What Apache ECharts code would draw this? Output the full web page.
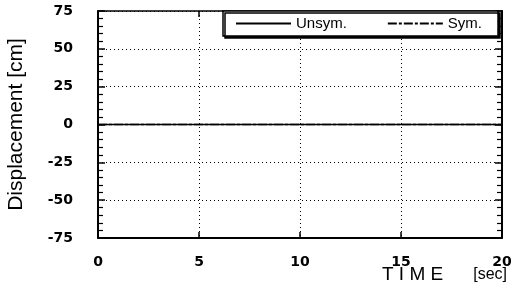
<!DOCTYPE html>
<html>
<head>
<meta charset="utf-8">
<script src="https://cdn.jsdelivr.net/npm/echarts@6/dist/echarts.min.js"></script>
<style>
  html, body { margin: 0; padding: 0; background: #fff; }
  #chart { width: 516px; height: 289px; }
</style>
</head>
<body>
<div id="chart"></div>
<script>
  // 时程数据：两条曲线都贴在 0 线上
  const timeSec = [0, 5, 10, 15, 20];
  const unsymCm = [0, 0, 0, 0, 0];
  const symCm = [0, 0, 0, 0, 0];
  const xTicks = [0, 5, 10, 15, 20];
  const yTicks = [-75, -50, -25, 0, 25, 50, 75];

  const INK = "#000";
  const tickFont = { color: INK, fontFamily: "DejaVu Sans", fontSize: 14, fontWeight: "bold" };

  function pairs(xs, ys) {
    return xs.map((x, i) => [x, ys[i]]);
  }

  // 边框轴：不带标签，只画线和朝内的刻度
  function frameX(pos, width) {
    return {
      type: "value",
      position: pos,
      min: xTicks[0],
      max: xTicks[xTicks.length - 1],
      interval: 5,
      axisLine: { show: true, onZero: false, lineStyle: { color: "#000", width: width } },
      axisTick: { show: true, inside: true, length: 6, lineStyle: { color: "#000", width: 1.5 } },
      axisLabel: { show: false },
      splitLine: { show: false },
    };
  }

  function frameY(pos, withLabel) {
    return {
      type: "value",
      position: pos,
      min: yTicks[0],
      max: yTicks[yTicks.length - 1],
      interval: 25,
      axisLine: { show: true, onZero: false, lineStyle: { color: "#000", width: 2 } },
      axisTick: { show: true, inside: true, length: 7, lineStyle: { color: "#000", width: 1.5 } },
      minorTick: { show: true, splitNumber: 5, length: 5, lineStyle: { color: "#000", width: 1.2 } },
      axisLabel: withLabel ? Object.assign({ margin: 25 }, tickFont) : { show: false },
      splitLine: withLabel
        ? { show: true, lineStyle: { color: "#000", width: 1, type: [1, 3] } }
        : { show: false },
    };
  }

  const chart = echarts.init(document.getElementById("chart"), null, { renderer: "canvas" });
  chart.setOption({
    animation: false,
    backgroundColor: "#fff",
    grid: { left: 98, right: 14, top: 11, bottom: 51, outerBoundsMode: "none" },
    title: {
      text: "{a|T I M E}      {b|[sec]}",
      right: 9,
      top: 265,
      padding: 0,
      textStyle: {
        rich: {
          a: { fontFamily: "Liberation Sans", fontSize: 19, fontWeight: "normal", color: INK },
          b: { fontFamily: "Liberation Sans", fontSize: 16, fontWeight: "normal", color: INK },
        },
      },
    },
    legend: {
      left: 223,
      top: 11,
      padding: [5, 16, 5, 12],
      itemWidth: 55,
      itemHeight: 12,
      itemGap: 40,
      backgroundColor: "#fff",
      borderColor: "#000",
      borderWidth: 1.5,
      shadowColor: "#000",
      shadowOffsetX: 2,
      shadowOffsetY: 2,
      shadowBlur: 0,
      itemStyle: { color: "rgba(0,0,0,0)", borderWidth: 0 },
      textStyle: { color: INK, fontFamily: "Liberation Sans", fontSize: 15 },
      data: ["Unsym.", "Sym."],
    },
    xAxis: [
      Object.assign(frameX("bottom", 2), {
        axisLabel: Object.assign({ show: true, margin: 17 }, tickFont),
        splitLine: { show: true, lineStyle: { color: "#000", width: 1, type: [1, 3] } },
      }),
      frameX("top", 1.5),
    ],
    yAxis: [
      Object.assign(frameY("left", true), {
        name: "Displacement [cm]",
        nameLocation: "middle",
        nameGap: 71,
        nameTextStyle: { fontFamily: "Liberation Sans", fontSize: 21, color: INK },
      }),
      frameY("right", false),
    ],
    series: [
      {
        name: "Sym.",
        type: "line",
        data: pairs(timeSec, symCm),
        symbol: "none",
        lineStyle: { color: "#000", width: 1.5, type: [9, 2, 3, 2] },
        itemStyle: { color: "#000" },
      },
      {
        name: "Unsym.",
        type: "line",
        data: pairs(timeSec, unsymCm),
        symbol: "none",
        lineStyle: { color: "#000", width: 1.5 },
        itemStyle: { color: "#000" },
      },
    ],
  });
</script>
</body>
</html>
